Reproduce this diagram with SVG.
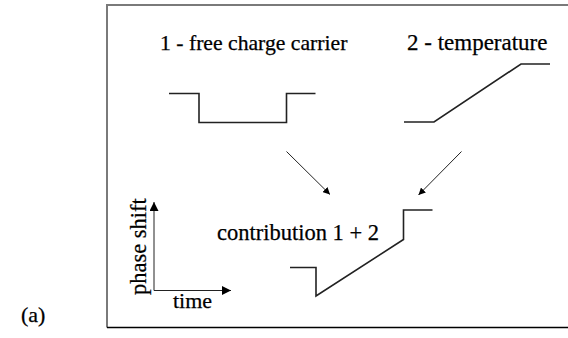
<svg xmlns="http://www.w3.org/2000/svg" width="568" height="338" viewBox="0 0 568 338">
  <defs>
    <marker id="arrow" viewBox="0 0 10 10" refX="10" refY="5" markerWidth="7" markerHeight="7" markerUnits="userSpaceOnUse" orient="auto">
      <path d="M0,0 L10,5 L0,10 z" fill="#000"/>
    </marker>
    <marker id="axisArrow" viewBox="0 0 10 10" refX="10" refY="5" markerWidth="9" markerHeight="9" markerUnits="userSpaceOnUse" orient="auto">
      <path d="M0,0 L10,5 L0,10 z" fill="#000"/>
    </marker>
  </defs>
  <style>
    text { font-family: 'Liberation Serif', 'Times New Roman', serif; fill: #000; stroke: #000; stroke-width: 0.25; }
    .trace { fill: none; stroke: #222; stroke-width: 1.6; }
    .conn { fill: none; stroke: #222; stroke-width: 1; }
  </style>
  <rect width="568" height="338" fill="#fff"/>

  <!-- panel frame (open on the right) -->
  <g id="frame">
    <path d="M568,5 L107,5 L107,327.5" fill="none" stroke="#7a7a7a" stroke-width="2"/>
    <path d="M107,327.5 L568,327.5" fill="none" stroke="#000" stroke-width="1.6"/>
  </g>

  <text id="panel-label" x="21" y="322" font-size="22">(a)</text>

  <g id="free-carrier">
    <text x="160" y="50" font-size="21.7">1 - free charge carrier</text>
    <path class="trace" d="M169,93.5 L199,93.5 L199,122.5 L286.5,122.5 L286.5,93.5 L315.5,93.5"/>
  </g>

  <g id="temperature">
    <text x="407" y="50" font-size="23">2 - temperature</text>
    <path class="trace" d="M404,122 L434,122 L521,64 L550,64"/>
  </g>

  <g id="contribution">
    <text x="217" y="240" font-size="22.5">contribution 1 + 2</text>
    <path class="trace" d="M290,267.5 L316,267.5 L316,296 L403.5,239.5 L403.5,210 L432.5,210"/>
  </g>

  <g id="axes">
    <path class="conn" stroke-width="1.5" d="M154,290.5 L154,202" marker-end="url(#axisArrow)"/>
    <path class="conn" stroke-width="1.5" d="M154,290.5 L231,290.5" marker-end="url(#axisArrow)"/>
    <text font-size="22.5" transform="translate(146,295) rotate(-90)">phase shift</text>
    <text x="173" y="308" font-size="22">time</text>
  </g>

  <g id="connectors">
    <path class="conn" d="M286.5,151.5 L330,194.5" marker-end="url(#arrow)"/>
    <path class="conn" d="M461.5,151.5 L418.5,195" marker-end="url(#arrow)"/>
  </g>
</svg>
